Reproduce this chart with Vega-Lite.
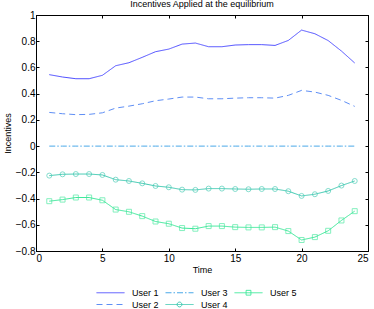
{
  "$schema": "https://vega.github.io/schema/vega-lite/v6.json",
  "width": 332,
  "height": 236,
  "autosize": "none",
  "padding": {"left": 36, "top": 15, "right": 6, "bottom": 58},
  "background": "white",
  "title": {"text": "Incentives Applied at the equilibrium", "fontSize": 9, "font": "Liberation Sans", "fontWeight": "normal", "color": "#000", "offset": 4, "dy": 3},
  "config": {
    "font": "Liberation Sans",
    "view": {"stroke": "#000", "strokeWidth": 1},
    "axis": {"domainColor": "#000", "tickColor": "#000", "tickSize": -3, "labelFontSize": 10, "labelColor": "#000", "titleFontSize": 9, "titleFontWeight": "normal", "titleColor": "#000", "grid": false, "labelPadding": 4},
    "legend": {"labelFontSize": 9, "labelColor": "#000"}
  },
  "data": {"values": [
    {"t":1,"user":"User 1","v":0.545},{"t":2,"user":"User 1","v":0.527},{"t":3,"user":"User 1","v":0.514},{"t":4,"user":"User 1","v":0.514},{"t":5,"user":"User 1","v":0.54},{"t":6,"user":"User 1","v":0.613},{"t":7,"user":"User 1","v":0.636},{"t":8,"user":"User 1","v":0.677},{"t":9,"user":"User 1","v":0.72},{"t":10,"user":"User 1","v":0.74},{"t":11,"user":"User 1","v":0.778},{"t":12,"user":"User 1","v":0.786},{"t":13,"user":"User 1","v":0.758},{"t":14,"user":"User 1","v":0.758},{"t":15,"user":"User 1","v":0.771},{"t":16,"user":"User 1","v":0.774},{"t":17,"user":"User 1","v":0.774},{"t":18,"user":"User 1","v":0.768},{"t":19,"user":"User 1","v":0.806},{"t":20,"user":"User 1","v":0.885},{"t":21,"user":"User 1","v":0.857},{"t":22,"user":"User 1","v":0.805},{"t":23,"user":"User 1","v":0.725},{"t":24,"user":"User 1","v":0.634},
    {"t":1,"user":"User 2","v":0.257},{"t":2,"user":"User 2","v":0.247},{"t":3,"user":"User 2","v":0.24},{"t":4,"user":"User 2","v":0.242},{"t":5,"user":"User 2","v":0.254},{"t":6,"user":"User 2","v":0.29},{"t":7,"user":"User 2","v":0.305},{"t":8,"user":"User 2","v":0.323},{"t":9,"user":"User 2","v":0.346},{"t":10,"user":"User 2","v":0.359},{"t":11,"user":"User 2","v":0.374},{"t":12,"user":"User 2","v":0.374},{"t":13,"user":"User 2","v":0.361},{"t":14,"user":"User 2","v":0.361},{"t":15,"user":"User 2","v":0.366},{"t":16,"user":"User 2","v":0.369},{"t":17,"user":"User 2","v":0.369},{"t":18,"user":"User 2","v":0.366},{"t":19,"user":"User 2","v":0.387},{"t":20,"user":"User 2","v":0.425},{"t":21,"user":"User 2","v":0.412},{"t":22,"user":"User 2","v":0.387},{"t":23,"user":"User 2","v":0.349},{"t":24,"user":"User 2","v":0.303},
    {"t":1,"user":"User 3","v":0},{"t":2,"user":"User 3","v":0},{"t":3,"user":"User 3","v":0},{"t":4,"user":"User 3","v":0},{"t":5,"user":"User 3","v":0},{"t":6,"user":"User 3","v":0},{"t":7,"user":"User 3","v":0},{"t":8,"user":"User 3","v":0},{"t":9,"user":"User 3","v":0},{"t":10,"user":"User 3","v":0},{"t":11,"user":"User 3","v":0},{"t":12,"user":"User 3","v":0},{"t":13,"user":"User 3","v":0},{"t":14,"user":"User 3","v":0},{"t":15,"user":"User 3","v":0},{"t":16,"user":"User 3","v":0},{"t":17,"user":"User 3","v":0},{"t":18,"user":"User 3","v":0},{"t":19,"user":"User 3","v":0},{"t":20,"user":"User 3","v":0},{"t":21,"user":"User 3","v":0},{"t":22,"user":"User 3","v":0},{"t":23,"user":"User 3","v":0},{"t":24,"user":"User 3","v":0},
    {"t":1,"user":"User 4","v":-0.225},{"t":2,"user":"User 4","v":-0.215},{"t":3,"user":"User 4","v":-0.213},{"t":4,"user":"User 4","v":-0.213},{"t":5,"user":"User 4","v":-0.22},{"t":6,"user":"User 4","v":-0.256},{"t":7,"user":"User 4","v":-0.266},{"t":8,"user":"User 4","v":-0.284},{"t":9,"user":"User 4","v":-0.304},{"t":10,"user":"User 4","v":-0.314},{"t":11,"user":"User 4","v":-0.332},{"t":12,"user":"User 4","v":-0.334},{"t":13,"user":"User 4","v":-0.324},{"t":14,"user":"User 4","v":-0.324},{"t":15,"user":"User 4","v":-0.327},{"t":16,"user":"User 4","v":-0.329},{"t":17,"user":"User 4","v":-0.327},{"t":18,"user":"User 4","v":-0.327},{"t":19,"user":"User 4","v":-0.344},{"t":20,"user":"User 4","v":-0.38},{"t":21,"user":"User 4","v":-0.367},{"t":22,"user":"User 4","v":-0.342},{"t":23,"user":"User 4","v":-0.301},{"t":24,"user":"User 4","v":-0.266},
    {"t":1,"user":"User 5","v":-0.42},{"t":2,"user":"User 5","v":-0.408},{"t":3,"user":"User 5","v":-0.392},{"t":4,"user":"User 5","v":-0.392},{"t":5,"user":"User 5","v":-0.413},{"t":6,"user":"User 5","v":-0.484},{"t":7,"user":"User 5","v":-0.501},{"t":8,"user":"User 5","v":-0.534},{"t":9,"user":"User 5","v":-0.575},{"t":10,"user":"User 5","v":-0.592},{"t":11,"user":"User 5","v":-0.625},{"t":12,"user":"User 5","v":-0.63},{"t":13,"user":"User 5","v":-0.61},{"t":14,"user":"User 5","v":-0.61},{"t":15,"user":"User 5","v":-0.618},{"t":16,"user":"User 5","v":-0.62},{"t":17,"user":"User 5","v":-0.62},{"t":18,"user":"User 5","v":-0.618},{"t":19,"user":"User 5","v":-0.648},{"t":20,"user":"User 5","v":-0.716},{"t":21,"user":"User 5","v":-0.694},{"t":22,"user":"User 5","v":-0.646},{"t":23,"user":"User 5","v":-0.567},{"t":24,"user":"User 5","v":-0.496}
  ]},
  "layer": [
    {
      "mark": {"type": "line", "strokeWidth": 1},
      "encoding": {
        "x": {"field": "t", "type": "quantitative", "scale": {"domain": [0, 25], "nice": false, "zero": false}, "axis": {"orient": "bottom", "title": "Time", "values": [0, 5, 10, 15, 20, 25], "titlePadding": 2, "labelPadding": 5}},
        "y": {"field": "v", "type": "quantitative", "scale": {"domain": [-0.8, 1], "nice": false, "zero": false}, "axis": {"orient": "left", "title": "Incentives", "values": [-0.8, -0.6, -0.4, -0.2, 0, 0.2, 0.4, 0.6, 0.8, 1], "format": ".1~f", "titlePadding": 3}},
        "color": {"field": "user", "type": "nominal",
          "scale": {"domain": ["User 1", "User 3", "User 5", "User 2", "User 4"], "range": ["#4d4dff", "#4aa8e8", "#3de89a", "#5f8ff5", "#3cc8b0"]},
          "legend": {"orient": "none", "legendX": 69, "legendY": 272, "direction": "horizontal", "columns": 3, "title": null, "gridAlign": "all",
            "symbolType": "M-2.8,0H2.8", "symbolSize": 100, "symbolStrokeWidth": 1, "labelOffset": 16, "columnPadding": 4, "rowPadding": 1,
            "encode": {"symbols": {"update": {"fill": {"value": "transparent"}, "shape": {"signal": "datum.value === 'User 4' ? 'M-2.8,0H2.8M0.48,0A0.48,0.48 0 1 1 -0.48,0A0.48,0.48 0 1 1 0.48,0' : datum.value === 'User 5' ? 'M-2.8,0H2.8M-0.48,-0.48H0.48V0.48H-0.48Z' : 'M-2.8,0H2.8'"}}}}}},
        "strokeDash": {"field": "user", "type": "nominal",
          "scale": {"domain": ["User 1", "User 3", "User 5", "User 2", "User 4"], "range": [[1, 0], [6, 2, 1.5, 2], [1, 0], [6, 4], [1, 0]]}}
      }
    },
    {
      "transform": [{"filter": "datum.user === 'User 4'"}],
      "mark": {"type": "point", "shape": "circle", "size": 25, "filled": false, "strokeWidth": 0.9},
      "encoding": {
        "x": {"field": "t", "type": "quantitative", "axis": {"orient": "top", "labels": false, "title": null, "values": [0, 5, 10, 15, 20, 25]}},
        "y": {"field": "v", "type": "quantitative", "axis": {"orient": "right", "labels": false, "title": null, "values": [-0.8, -0.6, -0.4, -0.2, 0, 0.2, 0.4, 0.6, 0.8, 1]}},
        "color": {"field": "user", "type": "nominal", "legend": null}
      }
    },
    {
      "transform": [{"filter": "datum.user === 'User 5'"}],
      "mark": {"type": "point", "shape": "square", "size": 25, "filled": false, "strokeWidth": 0.9},
      "encoding": {
        "x": {"field": "t", "type": "quantitative", "axis": null},
        "y": {"field": "v", "type": "quantitative", "axis": null},
        "color": {"field": "user", "type": "nominal", "legend": null}
      }
    }
  ],
  "resolve": {"axis": {"x": "independent", "y": "independent"}}
}
